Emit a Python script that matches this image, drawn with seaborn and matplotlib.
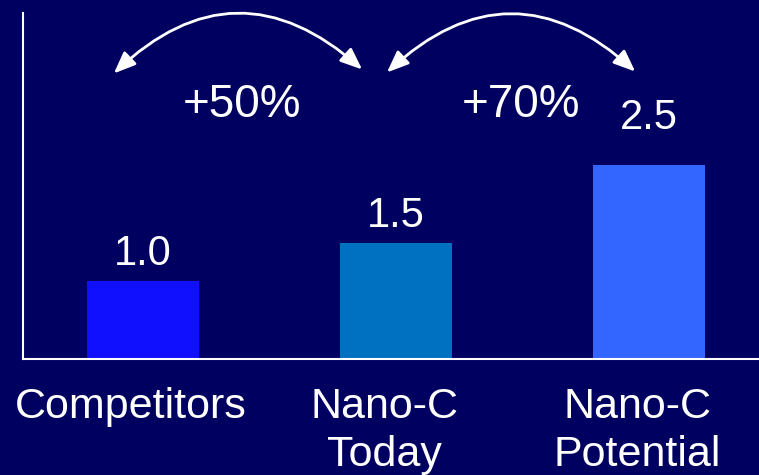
import matplotlib
matplotlib.use("Agg")
import matplotlib.pyplot as plt
import matplotlib.transforms as mtransforms
import seaborn as sns
import pandas as pd

# Data
categories = ["Competitors", "Nano-C\nToday", "Nano-C\nPotential"]
values = [1.0, 1.5, 2.5]
value_labels = ["1.0", "1.5", "2.5"]
bar_colors = ["#1010FF", "#0070C0", "#3366FF"]
gain_labels = ["+50%", "+70%"]

BG = "#000060"

sns.set_theme(style="white")
plt.rcParams["font.family"] = ["Liberation Sans", "DejaVu Sans"]

df = pd.DataFrame({"category": categories, "value": values})

fig = plt.figure(figsize=(7.59, 4.75), dpi=100, facecolor=BG)
ax = fig.add_axes([0.0303, 0.244, 0.970, 0.728])
ax.set_facecolor(BG)

sns.barplot(data=df, x="category", y="value", hue="category",
            palette=dict(zip(categories, bar_colors)), width=0.44,
            legend=False, ax=ax, saturation=1, linewidth=0, zorder=1)

ax.set_xlim(-0.474, 2.435)
ax.set_ylim(0, 4.45)
ax.set_xlabel("")
ax.set_ylabel("")
ax.set_yticks([])
ax.tick_params(axis="x", length=0, pad=20, labelsize=31, colors="white")
for lbl in ax.get_xticklabels():
    lbl.set_linespacing(1.25)
    lbl.set_transform(lbl.get_transform() +
                      mtransforms.ScaledTranslation(-12 / 100, 0, fig.dpi_scale_trans))

for side in ["top", "right"]:
    ax.spines[side].set_visible(False)
for side in ["left", "bottom"]:
    ax.spines[side].set_color("white")
    ax.spines[side].set_linewidth(1.5)
    ax.spines[side].set_zorder(2)

# Value labels above each bar
label_offsets = [11.5, 11, 26]
for i, (v, txt) in enumerate(zip(values, value_labels)):
    ax.annotate(txt, xy=(i, v), xytext=(0, label_offsets[i]),
                textcoords="offset points", ha="center", va="baseline",
                color="white", fontsize=30)

# Curved double-headed arrows showing the gains between bars
arcs = [((-0.115, 3.676), (0.866, 3.727)), ((0.964, 3.689), (1.945, 3.70))]
for (p0, p1), g in zip(arcs, gain_labels):
    ax.annotate("", xy=p1, xytext=p0,
                arrowprops=dict(arrowstyle="<|-|>,head_length=1.1,head_width=0.45",
                                connectionstyle="arc3,rad=-0.46",
                                color="white", lw=2, shrinkA=0, shrinkB=0))
ax.text(0.39, 3.12, gain_labels[0], ha="center", va="baseline",
        color="white", fontsize=33)
ax.text(1.495, 3.11, gain_labels[1], ha="center", va="baseline",
        color="white", fontsize=33)

fig.savefig("out.png", dpi=100, facecolor=BG)
